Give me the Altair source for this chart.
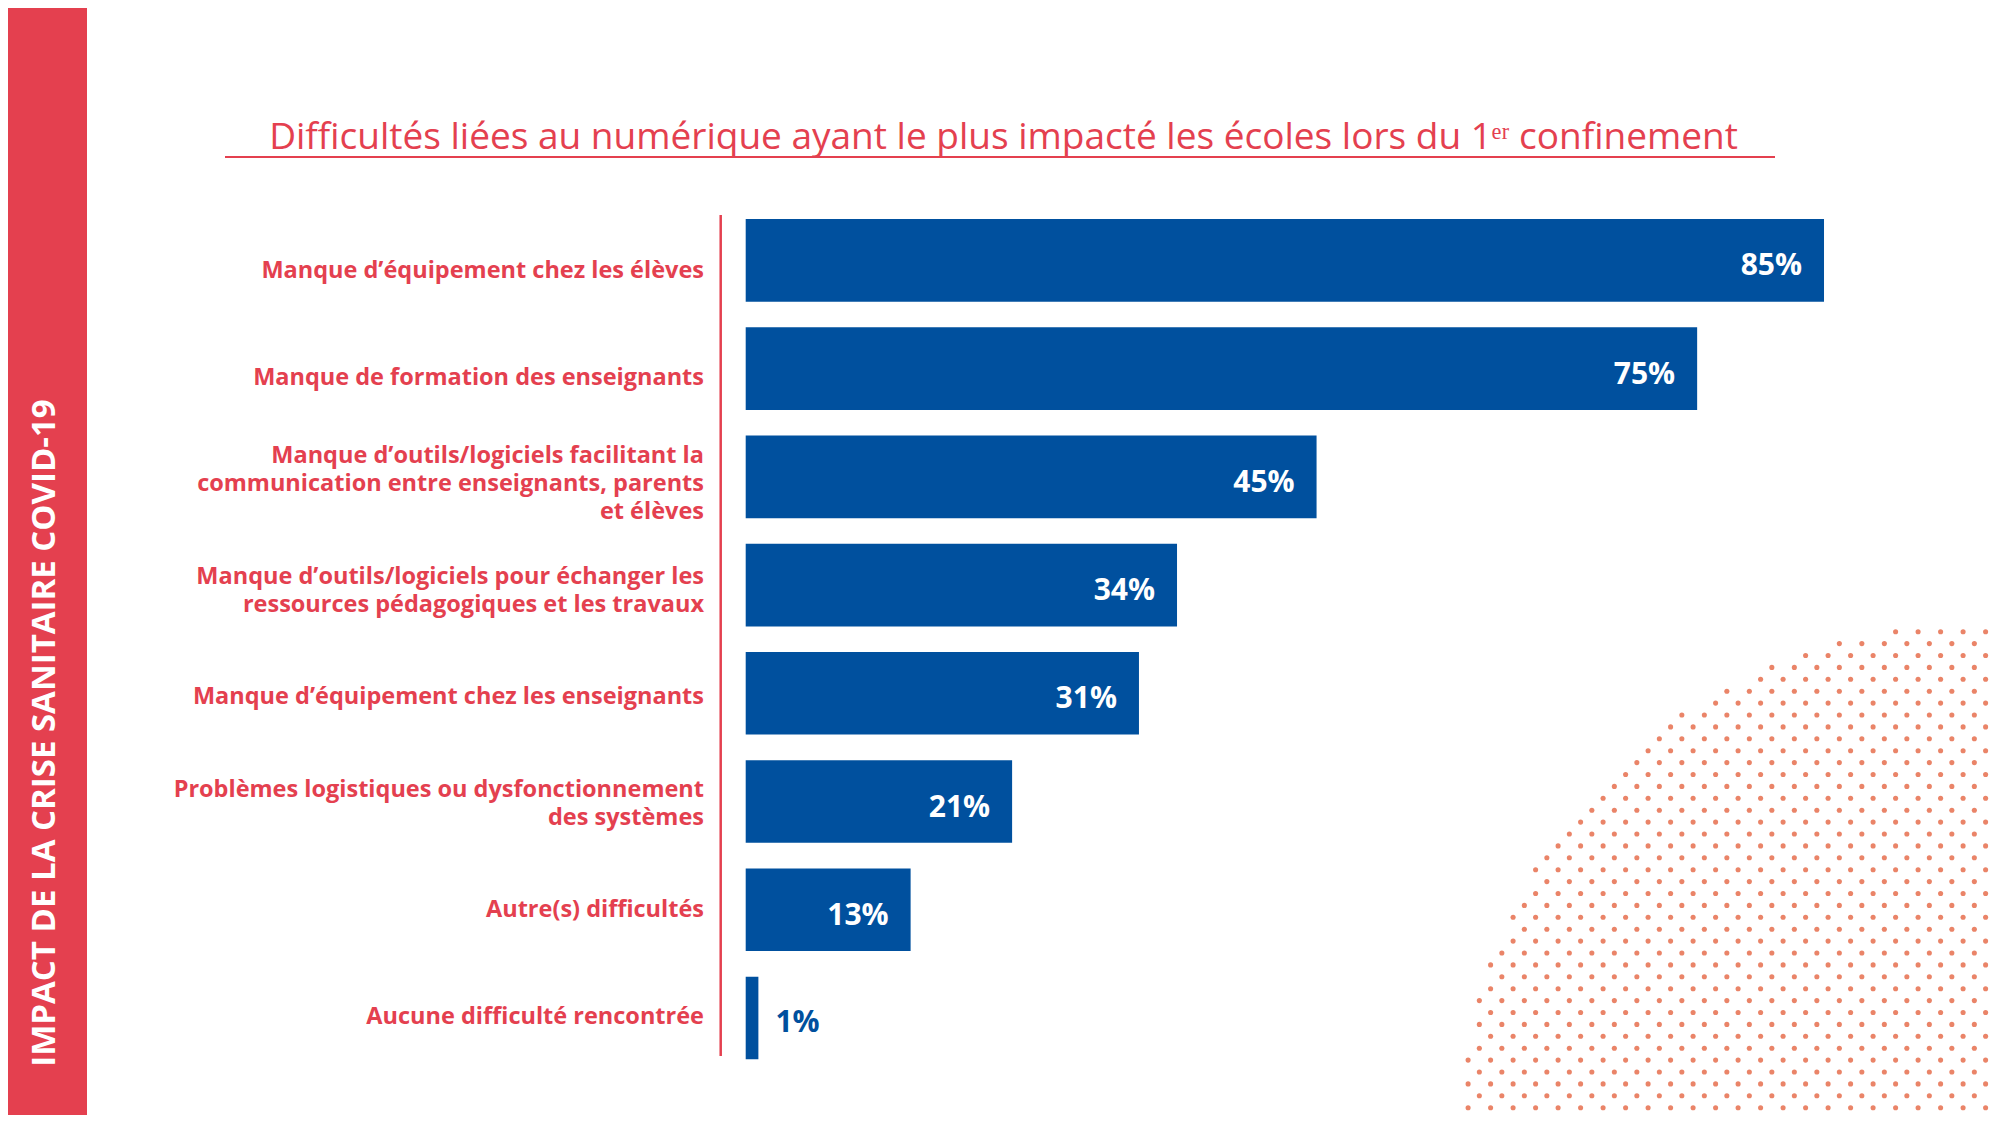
import altair as alt
import pandas as pd
import numpy as np

# ---------------- data ----------------
categories = [
    "Manque d’équipement chez les élèves",
    "Manque de formation des enseignants",
    "Manque d’outils/logiciels facilitant la|communication entre enseignants, parents|et élèves",
    "Manque d’outils/logiciels pour échanger les|ressources pédagogiques et les travaux",
    "Manque d’équipement chez les enseignants",
    "Problèmes logistiques ou dysfonctionnement|des systèmes",
    "Autre(s) difficultés",
    "Aucune difficulté rencontrée",
]
values = [85, 75, 45, 34, 31, 21, 13, 1]

title_text = "Difficultés liées au numérique ayant le plus impacté les écoles lors du 1ᵉʳ confinement"
side_text = "IMPACT DE LA CRISE SANITAIRE COVID-19"

RED = "#e4404f"
BLUE = "#00509e"
DOT = "#ea8468"
FONT = "Open Sans"

W, H = 1986, 1107
LH = 28  # label line height

df = pd.DataFrame({"cat": categories, "value": values})

# decorative dot pattern (background halftone circle)
cx, cy, r = 1955.0, 1118.0, 500.0
gx0, gy0, sx, sy = 1797.6, 647.5, 22.5, 11.9
pts_x, pts_y = [], []
for j in range(-70, 70):
    yy = gy0 + j * sy
    off = (j % 2) * sx / 2
    for i in range(-40, 40):
        xx = gx0 + off + i * sx
        if (xx - cx) ** 2 + (yy - cy) ** 2 <= r ** 2 and 0 <= xx <= W and 0 <= yy <= H:
            pts_x.append(xx)
            pts_y.append(yy)
dots_df = pd.DataFrame({"px": pts_x, "py": pts_y})

one = pd.DataFrame({"a": [0]})

# ---------------- scales ----------------
xs = alt.Scale(domain=[0, 100], range=[737.7, 2006.3], zero=True, nice=False)
ys = alt.Scale(domain=categories, range=[198.2, 1064.1], paddingInner=0.236, paddingOuter=0.118)
Y = alt.Y("cat:N", sort=categories, scale=ys, axis=None)
# category labels sit on a slightly tighter grid than the bars
ys_lab = alt.Scale(domain=categories, range=[206.75, 1058.75], paddingInner=0, paddingOuter=0)
Y_lab = alt.Y("cat:N", sort=categories, scale=ys_lab, axis=None)

dots = alt.Chart(dots_df).mark_circle(size=26, color=DOT, opacity=1).encode(
    x=alt.X("px:Q", scale=alt.Scale(domain=[0, W], range=[0, W], nice=False, zero=False), axis=None),
    y=alt.Y("py:Q", scale=alt.Scale(domain=[0, H], range=[0, H], nice=False, zero=False), axis=None),
)

stripe = alt.Chart(one).mark_rect(color=RED).encode(
    x=alt.value(0), x2=alt.value(79), y=alt.value(0), y2=alt.value(H)
)
stripe_text = alt.Chart(one).mark_text(
    angle=270, color="white", font=FONT, fontWeight="bold", fontSize=33,
    align="center", baseline="middle",
).encode(x=alt.value(37), y=alt.value(725), text=alt.value(side_text))

title = alt.Chart(one).mark_text(
    color=RED, font=FONT, fontSize=37, align="center", baseline="alphabetic",
).encode(x=alt.value(995.5), y=alt.value(141), text=alt.value(title_text))

underline = alt.Chart(one).mark_rule(color=RED, strokeWidth=2).encode(
    x=alt.value(217), x2=alt.value(1767), y=alt.value(149)
)
vline = alt.Chart(one).mark_rule(color=RED, strokeWidth=2.5).encode(
    x=alt.value(712.7), y=alt.value(207), y2=alt.value(1048)
)

base = alt.Chart(df).transform_calculate(
    label="datum.value + '%'",
    nlines="length(split(datum.cat, '|'))",
)

bars = base.mark_bar(color=BLUE).encode(
    x=alt.X("value:Q", scale=xs, axis=None), y=Y
)


def cat_layer(n):
    return base.transform_filter(f"datum.nlines == {n}").mark_text(
        align="right", baseline="middle", color=RED, font=FONT, fontWeight="bold",
        fontSize=23.5, lineBreak="|", lineHeight=LH, dy=3 - (n - 1) * LH / 2,
    ).encode(x=alt.value(696), y=Y_lab, text="cat:N")


cat1, cat2, cat3 = cat_layer(1), cat_layer(2), cat_layer(3)

val_in = base.transform_filter("datum.value >= 5").mark_text(
    align="right", baseline="middle", color="white", font=FONT, fontWeight="bold",
    fontSize=30, dx=-22, dy=6,
).encode(x=alt.X("value:Q", scale=xs, axis=None), y=Y, text="label:N")

val_out = base.transform_filter("datum.value < 5").mark_text(
    align="left", baseline="middle", color=BLUE, font=FONT, fontWeight="bold",
    fontSize=30, dx=17, dy=5,
).encode(x=alt.X("value:Q", scale=xs, axis=None), y=Y, text="label:N")

chart = alt.layer(
    dots, stripe, stripe_text, title, underline, vline, bars, cat1, cat2, cat3, val_in, val_out
).resolve_scale(x="independent", y="independent").properties(
    width=W, height=H, autosize=alt.AutoSizeParams(type="none"), padding=0,
    background="white",
).configure_view(stroke=None)

chart.save("out.html", embed_options={"renderer": "svg", "actions": False})
